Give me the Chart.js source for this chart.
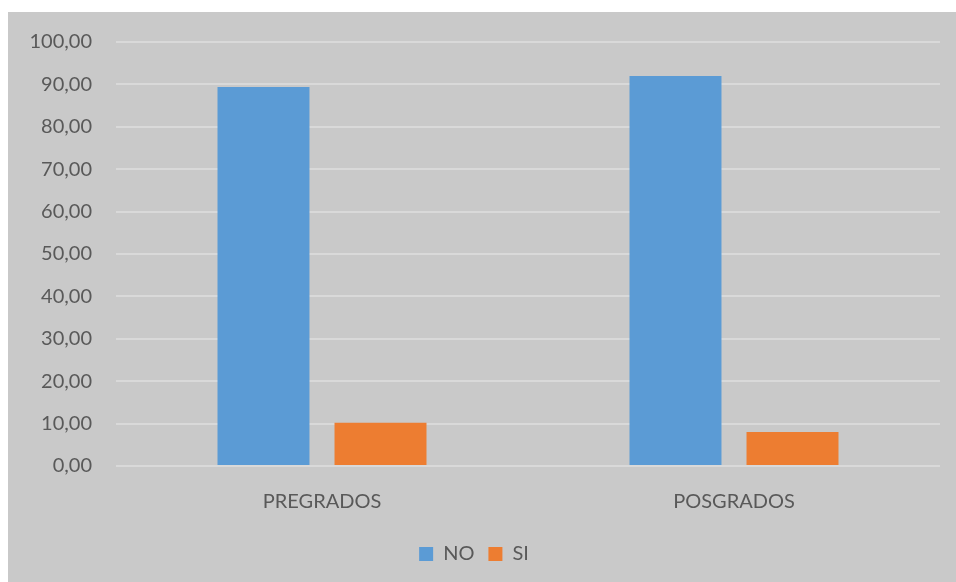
<!DOCTYPE html>
<html>
<head>
<meta charset="utf-8">
<script src="https://cdn.jsdelivr.net/npm/chart.js@4/dist/chart.umd.min.js"></script>
<style>
  html, body { margin: 0; padding: 0; background: #fff; }
  #wrap { position: absolute; left: 8px; top: 12px; width: 948px; height: 570px; background: #c9c9c9; }
</style>
</head>
<body>
<div id="wrap"><canvas id="chart" width="948" height="570"></canvas></div>
<script>
const categorias = ["PREGRADOS", "POSGRADOS"];
const valoresNo = [89.4, 92.0];
const valoresSi = [10.2, 8.0];

Chart.defaults.font.family = "Lato, 'Open Sans', sans-serif";
Chart.defaults.color = "#595959";

new Chart(document.getElementById("chart"), {
  type: "bar",
  data: {
    labels: categorias,
    datasets: [
      { label: "NO", data: valoresNo, backgroundColor: "#5b9bd5", categoryPercentage: 0.568, barPercentage: 0.786 },
      { label: "SI", data: valoresSi, backgroundColor: "#ed7d31", categoryPercentage: 0.568, barPercentage: 0.786 }
    ]
  },
  options: {
    responsive: false,
    animation: false,
    layout: { padding: { top: 30, right: 16, left: 0, bottom: 8 } },
    plugins: {
      tooltip: { enabled: false },
      legend: {
        position: "bottom",
        labels: { boxWidth: 14, boxHeight: 14, padding: 14, font: { size: 20 }, color: "#595959" }
      }
    },
    scales: {
      x: {
        grid: { display: false },
        border: { display: false },
        ticks: { font: { size: 20 }, padding: 16 }
      },
      y: {
        min: 0,
        max: 100,
        afterFit: s => { s.width = 108; },
        grid: { color: "#d9d9d9", lineWidth: 2, drawTicks: true, tickLength: 20, tickColor: "transparent" },
        border: { display: false },
        ticks: {
          stepSize: 10,
          padding: 4,
          font: { size: 20 },
          callback: v => v.toFixed(2).replace(".", ",")
        }
      }
    }
  }
});
</script>
</body>
</html>
